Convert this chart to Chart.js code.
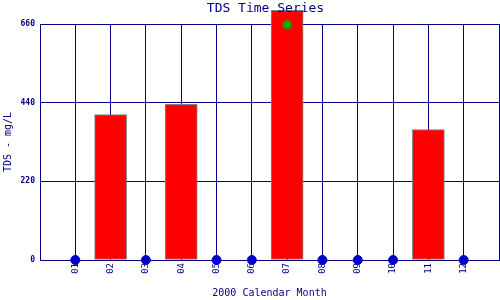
<!DOCTYPE html>
<html>
<head>
<meta charset="utf-8">
<script src="https://cdn.jsdelivr.net/npm/chart.js@4"></script>
<style>
    html, body { margin: 0; padding: 0; background: #ffffff; }
    #wrap { width: 500px; height: 300px; }
</style>
</head>
<body>
<div id="wrap"><canvas id="tdsChart"></canvas></div>
<script>
// Chart values
const months = ['01', '02', '03', '04', '05', '06', '07', '08', '09', '10', '11', '12'];
const barValues = [null, 407, null, 435, null, null, 698, null, null, null, 365, null];
const blueValues = [0, null, 0, null, 0, 0, null, 0, 0, 0, null, 0];
const greenValues = [null, null, null, null, null, null, 658, null, null, null, null, null];
const yTicks = [0, 220, 440, 660];
const chartTitle = 'TDS Time Series';

const navy = '#000080';

// Turn a month-indexed array into {x, y} points
function toPoints(values) {
    return values
        .map((v, i) => ({ x: i + 1, y: v }))
        .filter(p => p.y !== null);
}

// Title roughly centred over the plot area rather than the whole canvas
const plotTitle = {
    id: 'plotTitle',
    afterDraw(chart) {
        const { ctx, chartArea } = chart;
        ctx.save();
        ctx.font = '13px "DejaVu Sans Mono"';
        ctx.fillStyle = navy;
        ctx.textAlign = 'center';
        ctx.textBaseline = 'middle';
        ctx.fillText(chartTitle, (chartArea.left + chartArea.right) / 2 - 4, 9);
        ctx.restore();
    }
};

const ctx = document.getElementById('tdsChart').getContext('2d');

new Chart(ctx, {
    type: 'bar',
    data: {
        datasets: [
            {
                type: 'line',
                data: toPoints(greenValues),
                showLine: false,
                pointRadius: 4,
                pointBackgroundColor: '#00b000',
                pointBorderColor: '#00b000',
                clip: false,
                order: 0
            },
            {
                type: 'line',
                data: toPoints(blueValues),
                showLine: false,
                pointRadius: 4.5,
                pointBackgroundColor: '#0000cc',
                pointBorderColor: '#0000cc',
                clip: false,
                order: 1
            },
            {
                type: 'bar',
                data: toPoints(barValues),
                backgroundColor: '#ff0000',
                borderColor: '#808080',
                borderWidth: 1,
                borderSkipped: false,
                barThickness: 32,
                clip: false,
                order: 2
            }
        ]
    },
    options: {
        responsive: true,
        maintainAspectRatio: false,
        animation: false,
        layout: {
            autoPadding: false,
            padding: { left: 0, right: 1, top: 24, bottom: 0 }
        },
        plugins: {
            legend: { display: false },
            tooltip: { enabled: false },
            title: { display: false }
        },
        scales: {
            x: {
                type: 'linear',
                min: 0,
                max: 13,
                offset: false,
                afterFit: (scale) => {
                    scale.height = 40;
                    scale.paddingLeft = 0;
                    scale.paddingRight = 0;
                },
                afterBuildTicks: (scale) => {
                    scale.ticks = [];
                    for (let i = 0; i <= 13; i++) scale.ticks.push({ value: i });
                },
                ticks: {
                    autoSkip: false,
                    minRotation: 90,
                    maxRotation: 90,
                    padding: 3,
                    color: navy,
                    font: { family: 'DejaVu Sans Mono', size: 9 },
                    callback: (value) => months[value - 1] || ''
                },
                grid: {
                    offset: false,
                    color: navy,
                    lineWidth: 1,
                    drawTicks: false
                },
                border: { color: navy, width: 1 },
                title: {
                    display: true,
                    text: '2000 Calendar Month',
                    color: navy,
                    font: { family: 'DejaVu Sans Mono', size: 10 },
                    padding: { top: 0, bottom: 1 }
                }
            },
            y: {
                min: 0,
                max: 660,
                afterFit: (scale) => {
                    scale.width = 40;
                    scale.paddingTop = 0;
                    scale.paddingBottom = 0;
                },
                afterBuildTicks: (scale) => {
                    scale.ticks = yTicks.map(v => ({ value: v }));
                },
                ticks: {
                    padding: 5,
                    color: navy,
                    font: { family: 'DejaVu Sans Mono', size: 8, weight: 'bold' }
                },
                grid: {
                    color: navy,
                    lineWidth: 1,
                    drawTicks: false
                },
                border: { color: navy, width: 1 },
                title: {
                    display: true,
                    text: 'TDS - mg/L',
                    color: navy,
                    font: { family: 'DejaVu Sans Mono', size: 10 },
                    padding: { top: 2, bottom: 0 }
                }
            }
        }
    },
    plugins: [plotTitle]
});
</script>
</body>
</html>
